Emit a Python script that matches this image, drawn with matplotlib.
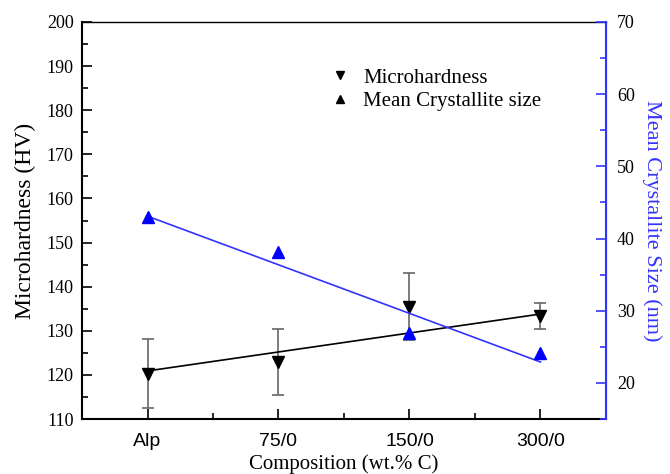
import matplotlib.pyplot as plt
import numpy as np
from matplotlib.ticker import MultipleLocator

# data
compositions = ['Alp', '75/0', '150/0', '300/0']
hardness = [120.3, 123.0, 135.5, 133.3]
hardness_err = [7.9, 7.5, 7.5, 3.0]
crystallite = [43.0, 38.2, 26.9, 24.2]
# straight-line fits drawn in the figure (values at first and last composition)
hardness_fit = [120.9, 133.8]
crystallite_fit = [43.1, 22.9]

serif = 'Liberation Serif'
sans = 'Liberation Sans'
blue = '#3333ff'

fig = plt.figure(figsize=(6.7, 4.74), dpi=100)
ax = fig.add_axes([0.1224, 0.116, 0.782, 0.8376])
ax2 = ax.twinx()

x = np.arange(len(compositions))
ends = [x[0], x[-1]]

ax.errorbar(x, hardness, yerr=hardness_err, fmt='none', ecolor='#666666',
            elinewidth=1.2, capsize=4, capthick=1.2, zorder=2)
ax.plot(ends, hardness_fit, color='black', lw=1.2, zorder=3)
ax.plot(x, hardness, 'v', color='black', ms=8, zorder=4)

ax2.plot(ends, crystallite_fit, color=blue, lw=1.2, zorder=3)
ax2.plot(x, crystallite, '^', color='#0000ff', ms=8, zorder=4)

ax.set_xlim(-0.5, 3.5)
ax.set_ylim(110, 200)
ax2.set_ylim(15, 70)

ax.set_xticks(x)
ax.set_xticklabels(compositions, fontfamily=sans, fontsize=14)
ax.xaxis.set_minor_locator(MultipleLocator(0.5))
ax.yaxis.set_major_locator(MultipleLocator(10))
ax.yaxis.set_minor_locator(MultipleLocator(5))
ax2.yaxis.set_major_locator(MultipleLocator(10))
ax2.yaxis.set_minor_locator(MultipleLocator(5))
ax2.set_yticks([20, 30, 40, 50, 60, 70])

for lab in ax.get_yticklabels() + ax2.get_yticklabels():
    lab.set_fontfamily(serif)
    lab.set_fontsize(13)

ax.tick_params(axis='both', which='major', direction='in', length=7, width=1.2, pad=6)
ax.tick_params(axis='both', which='minor', direction='in', length=4, width=1.2)
ax.tick_params(axis='x', which='major', pad=10)
ax.tick_params(axis='y', right=False)
ax.tick_params(axis='x', top=False, which='both')
ax2.tick_params(axis='y', which='major', direction='in', length=7, width=1.2,
                color=blue, pad=8)
ax2.tick_params(axis='y', which='minor', direction='in', length=4, width=1.2, color=blue)

for s in ['left', 'bottom']:
    ax.spines[s].set_linewidth(1.5)
ax.spines['top'].set_linewidth(1.0)
ax2.spines['right'].set_color(blue)
ax2.spines['right'].set_linewidth(1.5)
ax2.spines['left'].set_visible(False)
ax2.spines['top'].set_visible(False)
ax2.spines['bottom'].set_visible(False)

ax.set_xlabel('Composition (wt.% C)', fontfamily=serif, fontsize=15, labelpad=3)
ax.set_ylabel('Microhardness (HV)', fontfamily=serif, fontsize=17, labelpad=8)
ax2.set_ylabel('Mean Crystallite Size (nm)', fontfamily=serif, fontsize=16,
               color=blue, rotation=270, labelpad=19)

# legend (markers only, black)
h1 = plt.Line2D([], [], ls='none', marker='v', color='black', ms=6)
h2 = plt.Line2D([], [], ls='none', marker='^', color='black', ms=6)
leg = ax.legend([h1, h2], ['Microhardness', 'Mean Crystallite size'],
                loc='upper left', bbox_to_anchor=(0.457, 0.905), frameon=False,
                prop={'family': serif, 'size': 15}, handlelength=1.0,
                handletextpad=0.6, labelspacing=0.2, borderaxespad=0)

fig.savefig('out.png', dpi=100)
